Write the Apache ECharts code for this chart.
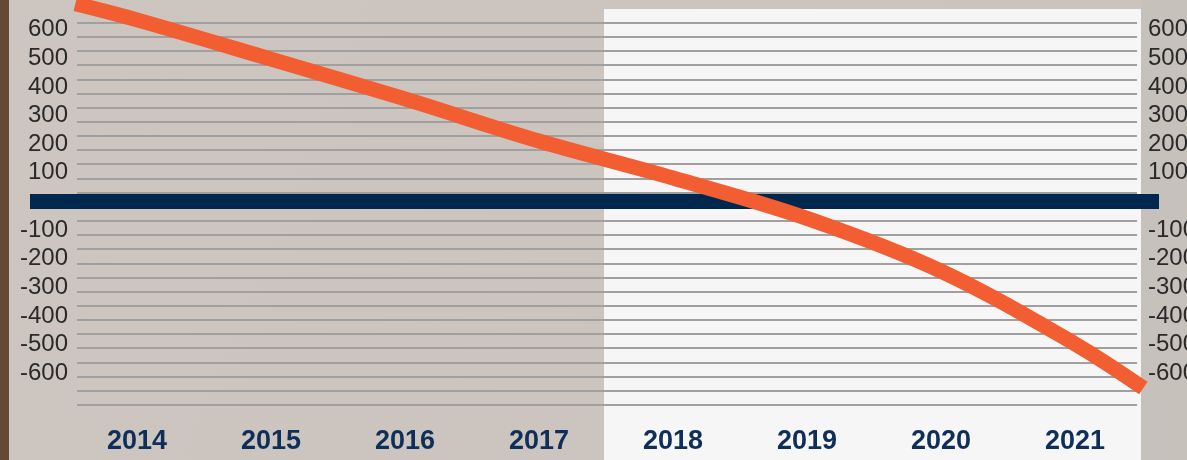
<!DOCTYPE html>
<html>
<head>
  <meta charset="utf-8">
  <title>chart</title>
  <style>
    html, body { margin: 0; padding: 0; }
    #main { width: 1187px; height: 460px; }
  </style>
</head>
<body>
<div id="main"></div>
<script src="https://cdn.jsdelivr.net/npm/echarts@6/dist/echarts.min.js"></script>
<script>
// years on the category axis
var years = ["2014", "2015", "2016", "2017", "2018", "2019", "2020", "2021"];
// tick labels shown on both sides
var tickValues = [-600, -500, -400, -300, -200, -100, 100, 200, 300, 400, 500, 600];
// curve: x in year bands (0 = left edge of 2014, 8 = right edge of 2021)
var curveX = [0.04, 0.5, 1.5, 2.5, 3.5, 4.5, 5.5, 6.5, 7.5, 8.01];
var curveY = [690, 634, 497, 358, 211, 82, -59, -243, -497, -651];
// zero baseline
var baseline = [0, 0];

var yMin = -727.7, yMax = 703.3;
var labelFont = "'Liberation Sans', Arial, sans-serif";

var curve = [];
for (var i = 0; i < curveX.length; i++) {
  curve.push([curveX[i], curveY[i]]);
}

var myEcharts = echarts.init(document.getElementById("main"));

myEcharts.setOption({
  backgroundColor: "#cbc5bf",
  animation: false,
  graphic: [
    { type: "rect", z: -10, silent: true, shape: { x: 0, y: 0, width: 1141, height: 460 },
      style: { fill: new echarts.graphic.LinearGradient(0, 0, 1, 1, [
        { offset: 0, color: "#cdc6c0" }, { offset: 1, color: "#cbc4be" }]) } },
    { type: "rect", z: -10, silent: true, shape: { x: 1141, y: 0, width: 46, height: 460 },
      style: { fill: "#c6c1bb" } },
    { type: "rect", z: -9, silent: true, shape: { x: 604, y: 9, width: 537, height: 451 },
      style: { fill: "#f6f6f6" } },
    { type: "rect", z: -9, silent: true, shape: { x: 0, y: 0, width: 9, height: 460 },
      style: { fill: "#654a33" } }
  ],
  grid: [
    // gray rules
    { left: 77, right: 50, top: 22.7, bottom: 55.2, outerBoundsMode: "none", containLabel: false },
    // curve, labels
    { left: 70, right: 45, top: 0, bottom: 50, outerBoundsMode: "none", containLabel: false },
    // zero band
    { left: 30, right: 28, top: 0, bottom: 50, outerBoundsMode: "none", containLabel: false }
  ],
  xAxis: [
    { gridIndex: 0, type: "value", min: 0, max: 1, show: false },
    { gridIndex: 1, type: "category", data: years, position: "bottom",
      axisLine: { show: false }, axisTick: { show: false }, splitLine: { show: false },
      axisLabel: { margin: 18, color: "#0f2f58", fontSize: 27, fontWeight: "bold",
        fontFamily: labelFont } },
    { gridIndex: 1, type: "value", min: 0, max: 8, show: false },
    { gridIndex: 2, type: "category", data: ["a", "b"], boundaryGap: false, show: false }
  ],
  yAxis: [
    { gridIndex: 0, type: "value", min: 0, max: 27, interval: 1,
      axisLine: { show: false }, axisTick: { show: false }, axisLabel: { show: false },
      splitLine: { show: true, lineStyle: { color: "#a0a0a0", width: 2 } } },
    { gridIndex: 1, type: "value", min: yMin, max: yMax, position: "left",
      axisLine: { show: false }, axisTick: { show: false }, splitLine: { show: false },
      axisLabel: { customValues: tickValues, margin: 2, color: "#2a2a2a", fontSize: 24,
        fontFamily: labelFont } },
    { gridIndex: 1, type: "value", min: yMin, max: yMax, position: "right",
      axisLine: { show: false }, axisTick: { show: false }, splitLine: { show: false },
      axisLabel: { customValues: tickValues, margin: 6, color: "#2a2a2a", fontSize: 24,
        fontFamily: labelFont } },
    { gridIndex: 2, type: "value", min: yMin, max: yMax, show: false }
  ],
  series: [
    {
      name: "zero",
      type: "line",
      xAxisIndex: 3,
      yAxisIndex: 3,
      data: baseline,
      symbol: "none",
      silent: true,
      z: 3,
      lineStyle: { color: "#00284f", width: 15, cap: "butt" }
    },
    {
      name: "curve",
      type: "line",
      xAxisIndex: 2,
      yAxisIndex: 1,
      data: curve,
      smooth: 0.35,
      symbol: "none",
      silent: true,
      clip: false,
      z: 5,
      lineStyle: { color: "#f25d31", width: 15, cap: "butt" }
    }
  ]
});
</script>
</body>
</html>
